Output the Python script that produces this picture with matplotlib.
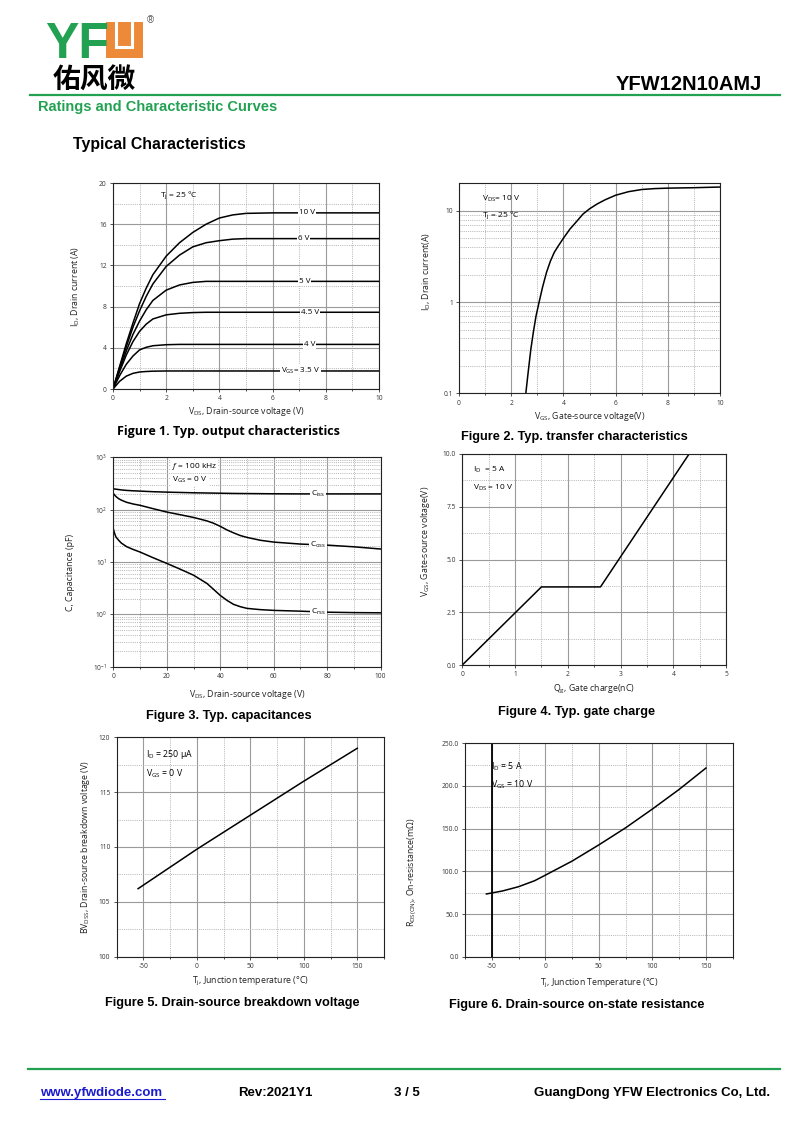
import matplotlib
matplotlib.use('Agg')
import matplotlib.pyplot as plt
from matplotlib.ticker import MultipleLocator, FixedLocator, NullFormatter, FixedFormatter, LogLocator
from matplotlib.patches import Rectangle
from matplotlib.lines import Line2D

plt.rcParams['font.family'] = ['Open Sans', 'DejaVu Sans']
plt.rcParams['mathtext.fontset'] = 'custom'
plt.rcParams['mathtext.rm'] = 'Open Sans'
plt.rcParams['mathtext.it'] = 'Open Sans:italic'
plt.rcParams['mathtext.bf'] = 'Open Sans:bold'
plt.rcParams['mathtext.default'] = 'rm'
plt.rcParams['axes.unicode_minus'] = False

W, H = 800, 1131

# ---- data ----
# Fig 1 output characteristics
vds_out = [0, 0.25, 0.5, 0.75, 1.0, 1.25, 1.5, 2.0, 2.5, 3.0, 3.5, 4.0, 4.5, 5.0, 6.0, 10.0]
id_10v = [0, 2.2, 4.4, 6.4, 8.3, 9.8, 11.1, 12.9, 14.2, 15.2, 16.0, 16.6, 16.9, 17.05, 17.1, 17.1]
id_6v = [0, 2.1, 4.1, 6.0, 7.6, 9.0, 10.2, 11.9, 13.0, 13.8, 14.2, 14.4, 14.55, 14.6, 14.6, 14.6]
id_5v = [0, 1.9, 3.7, 5.3, 6.6, 7.7, 8.6, 9.6, 10.1, 10.35, 10.45, 10.45, 10.45, 10.45, 10.45, 10.45]
id_45v = [0, 1.7, 3.3, 4.6, 5.6, 6.3, 6.8, 7.2, 7.35, 7.42, 7.45, 7.45, 7.45, 7.45, 7.45, 7.45]
id_4v = [0, 1.3, 2.4, 3.2, 3.8, 4.05, 4.2, 4.3, 4.33, 4.33, 4.33, 4.33, 4.33, 4.33, 4.33, 4.33]
id_35v = [0, 0.75, 1.25, 1.52, 1.65, 1.7, 1.73, 1.75, 1.75, 1.75, 1.75, 1.75, 1.75, 1.75, 1.75, 1.75]
out_curves = [id_10v, id_6v, id_5v, id_45v, id_4v, id_35v]
out_labels = ['10 V', '6 V', '5 V', '4.5 V', '4 V', 'V$_{GS}$= 3.5 V']
out_label_x = [7.3, 7.15, 7.2, 7.4, 7.4, 7.05]

# Fig 2 transfer characteristics
vgs_tr = [2.56, 2.65, 2.75, 2.85, 2.95, 3.07, 3.2, 3.35, 3.5, 3.65, 3.8, 4.0, 4.25, 4.5,
          4.75, 5.0, 5.3, 5.6, 6.0, 6.5, 7.0, 7.5, 8.0, 9.0, 10.0]
id_tr = [0.1, 0.17, 0.3, 0.47, 0.7, 1.0, 1.45, 2.1, 2.8, 3.5, 4.1, 5.0, 6.3, 7.6,
         9.2, 10.5, 11.9, 13.2, 14.8, 16.2, 17.1, 17.5, 17.7, 17.9, 18.2]

# Fig 3 capacitances
vds_cap = [0, 0.5, 1, 2, 3, 5, 7.5, 10, 15, 20, 25, 30, 35, 37.5, 40, 42.5, 45, 47.5, 50,
           55, 60, 70, 80, 90, 100]
ciss = [250, 248, 246, 242, 238, 233, 229, 226, 220, 216, 213, 210, 208, 207, 206, 205,
        204, 203.5, 203, 202, 201, 200, 200, 200, 200]
coss = [205, 190, 178, 162, 152, 138, 128, 121, 104, 90, 80, 71, 61, 55, 48, 41, 36, 32,
        29.5, 26, 24, 22, 21, 19.5, 17.7]
crss = [43, 35, 30, 26, 23, 19.6, 17.3, 15.5, 12, 9.4, 7.3, 5.6, 3.9, 3.0, 2.3, 1.85, 1.55,
        1.4, 1.3, 1.23, 1.19, 1.15, 1.1, 1.08, 1.07]

# Fig 4 gate charge
qg = [0, 1.5, 2.62, 4.3]
vgs_qg = [0, 3.7, 3.7, 10.0]

# Fig 5 breakdown voltage
tj_bv = [-55, 0, 50, 100, 150]
bv_dss = [106.2, 109.8, 112.9, 116.0, 119.0]

# Fig 6 on-resistance
tj_r = [-55, -40, -25, -10, 0, 25, 50, 75, 100, 125, 150]
rds_on = [73.5, 77, 82, 89, 95.5, 112, 131, 151, 173, 196, 221]

fig = plt.figure(figsize=(W / 100, H / 100), dpi=100)

GREEN = '#23a152'
ORANGE = '#ec8a3a'


def px(x, y):
    return x / W, 1 - y / H


def add_ax(l, t, r, b):
    return fig.add_axes([l / W, 1 - b / H, (r - l) / W, (b - t) / H])


def style(ax):
    ax.set_axisbelow(True)
    ax.grid(which='major', color='#9a9a9a', lw=0.8, ls='-')
    ax.grid(which='minor', color='#b4b4b4', lw=0.7, ls=(0, (1, 1.2)))
    ax.tick_params(which='both', direction='out', labelsize=4.8, width=0.6,
                   color='#333333', labelcolor='#333333', pad=2)
    ax.tick_params(which='major', length=2.5)
    ax.tick_params(which='minor', length=1.5)
    ax.tick_params(axis='y', which='minor', length=0)
    for s in ax.spines.values():
        s.set_linewidth(0.8)
        s.set_color('#222222')


def labels(ax, xl, yl, xl_top, yl_x, yl_y=0.5, l=0, t=0, r=0, b=0):
    ax.set_xlabel(xl, fontsize=6.3, color='#222222')
    ax.set_ylabel(yl, fontsize=6.3, color='#222222')
    ax.xaxis.set_label_coords(0.5, (b - xl_top) / (b - t))
    ax.yaxis.set_label_coords((yl_x - l) / (r - l), yl_y)


bbox_w = dict(facecolor='white', edgecolor='none', pad=0.6)

# ---- Figure 1 ----
l, t, r, b = 113, 183, 379, 389
ax1 = add_ax(l, t, r, b)
for ys, lab, lx in zip(out_curves, out_labels, out_label_x):
    ax1.plot(vds_out, ys, color='black', lw=1.1)
    ax1.text(lx, ys[-1], lab, fontsize=5.8, ha='center', va='center', bbox=bbox_w)
ax1.text(1.75, 18.8, 'T$_j$ = 25 °C', fontsize=6, va='center')
ax1.set_xlim(0, 10)
ax1.set_ylim(0, 20)
ax1.xaxis.set_major_locator(MultipleLocator(2))
ax1.xaxis.set_minor_locator(MultipleLocator(1))
ax1.yaxis.set_major_locator(MultipleLocator(4))
ax1.yaxis.set_minor_locator(MultipleLocator(2))
style(ax1)
labels(ax1, 'V$_{DS}$, Drain-source voltage (V)', 'I$_D$, Drain current (A)', 405, 82, l=l, t=t, r=r, b=b)

# ---- Figure 2 ----
l, t, r, b = 459, 183.3, 720, 393.3
ax2 = add_ax(l, t, r, b)
ax2.plot(vgs_tr, id_tr, color='black', lw=1.1)
ax2.set_yscale('log')
ax2.set_xlim(0, 10)
ax2.set_ylim(0.1, 20)
ax2.xaxis.set_major_locator(MultipleLocator(2))
ax2.xaxis.set_minor_locator(MultipleLocator(1))
ax2.yaxis.set_major_locator(FixedLocator([0.1, 1, 10]))
ax2.yaxis.set_major_formatter(FixedFormatter(['0.1', '1', '10']))
ax2.yaxis.set_minor_locator(LogLocator(base=10, subs=[2, 3, 4, 5, 6, 7, 8, 9]))
ax2.yaxis.set_minor_formatter(NullFormatter())
style(ax2)
ax2.text(0.87, 13.4, 'V$_{DS}$= 10 V', fontsize=6, va='center')
ax2.text(0.87, 8.9, 'T$_j$ = 25 °C', fontsize=6, va='center')
labels(ax2, 'V$_{GS}$, Gate-source voltage(V)', 'I$_D$, Drain current(A)', 410, 433, 0.58, l=l, t=t, r=r, b=b)

# ---- Figure 3 ----
l, t, r, b = 113.3, 457.3, 380.7, 666.7
ax3 = add_ax(l, t, r, b)
for ys, lab in zip([ciss, coss, crss], ['C$_{iss}$', 'C$_{oss}$', 'C$_{rss}$']):
    ax3.plot(vds_cap, ys, color='black', lw=1.1)
    ax3.text(76.7, ys[vds_cap.index(80)], lab, fontsize=6, ha='center', va='center', bbox=bbox_w)
ax3.set_yscale('log')
ax3.set_xlim(0, 100)
ax3.set_ylim(0.1, 1000)
ax3.xaxis.set_major_locator(MultipleLocator(20))
ax3.xaxis.set_minor_locator(MultipleLocator(10))
ax3.yaxis.set_minor_locator(LogLocator(base=10, subs=[2, 3, 4, 5, 6, 7, 8, 9]))
ax3.yaxis.set_minor_formatter(NullFormatter())
style(ax3)
ax3.text(22, 660, '$\\it{f}$ = 100 kHz', fontsize=6, va='center', bbox=bbox_w)
ax3.text(22, 375, 'V$_{GS}$ = 0 V', fontsize=6, va='center', bbox=bbox_w)
labels(ax3, 'V$_{DS}$, Drain-source voltage (V)', 'C, Capacitance (pF)', 688, 75, 0.452, l=l, t=t, r=r, b=b)

# ---- Figure 4 ----
l, t, r, b = 462.3, 454, 726, 665
ax4 = add_ax(l, t, r, b)
ax4.plot(qg, vgs_qg, color='black', lw=1.1)
ax4.set_xlim(0, 5)
ax4.set_ylim(0, 10)
ax4.xaxis.set_major_locator(MultipleLocator(1))
ax4.xaxis.set_minor_locator(MultipleLocator(0.5))
ax4.yaxis.set_major_locator(FixedLocator([0, 2.5, 5, 7.5, 10]))
ax4.yaxis.set_major_formatter(FixedFormatter(['0.0', '2.5', '5.0', '7.5', '10.0']))
ax4.yaxis.set_minor_locator(MultipleLocator(1.25))
style(ax4)
ax4.text(0.2, 9.25, 'I$_D$  = 5 A', fontsize=6, va='center')
ax4.text(0.2, 8.4, 'V$_{DS}$ = 10 V', fontsize=6, va='center')
labels(ax4, 'Q$_g$, Gate charge(nC)', 'V$_{GS}$, Gate-source voltage(V)', 683, 432, 0.588, l=l, t=t, r=r, b=b)

# ---- Figure 5 ----
l, t, r, b = 116.7, 737.3, 384, 956.7
ax5 = add_ax(l, t, r, b)
ax5.plot(tj_bv, bv_dss, color='black', lw=1.1)
ax5.set_xlim(-75, 175)
ax5.set_ylim(100, 120)
ax5.xaxis.set_major_locator(FixedLocator([-50, 0, 50, 100, 150]))
ax5.xaxis.set_minor_locator(FixedLocator([-75, -25, 25, 75, 125, 175]))
ax5.yaxis.set_major_locator(MultipleLocator(5))
ax5.yaxis.set_minor_locator(MultipleLocator(2.5))
style(ax5)
ax5.text(-48, 118.4, 'I$_D$ = 250 µA', fontsize=6.3, va='center')
ax5.text(-48, 116.7, 'V$_{GS}$ = 0 V', fontsize=6.3, va='center')
labels(ax5, 'T$_j$, Junction temperature (°C)', 'BV$_{DSS}$, Drain-source breakdown voltage (V)', 975, 92, l=l, t=t, r=r, b=b)

# ---- Figure 6 ----
l, t, r, b = 465, 743.3, 732.7, 956.7
ax6 = add_ax(l, t, r, b)
ax6.axvline(-50, color='black', lw=1.3)
ax6.plot(tj_r, rds_on, color='black', lw=1.1)
ax6.set_xlim(-75, 175)
ax6.set_ylim(0, 250)
ax6.xaxis.set_major_locator(FixedLocator([-50, 0, 50, 100, 150]))
ax6.xaxis.set_minor_locator(FixedLocator([-75, -25, 25, 75, 125, 175]))
ax6.yaxis.set_major_locator(FixedLocator([0, 50, 100, 150, 200, 250]))
ax6.yaxis.set_major_formatter(FixedFormatter(['0.0', '50.0', '100.0', '150.0', '200.0', '250.0']))
ax6.yaxis.set_minor_locator(MultipleLocator(25))
style(ax6)
ax6.text(-51, 222, 'I$_D$ = 5 A', fontsize=6.3, va='center')
ax6.text(-51, 201, 'V$_{GS}$ = 10 V', fontsize=6.3, va='center')
labels(ax6, 'T$_j$, Junction Temperature (°C)', 'R$_{DS(ON)}$, On-resistance(mΩ)', 977, 419, 0.397, l=l, t=t, r=r, b=b)

# ---- captions ----
cap_font = ['Liberation Sans', 'DejaVu Sans']
fig.text(*px(228, 432), 'Figure 1. Typ. output characteristics', fontsize=9, weight='bold',
         ha='center', va='center', family=['Open Sans', 'DejaVu Sans'])
captions = [(574, 437, 'Figure 2. Typ. transfer characteristics'),
            (229, 716, 'Figure 3. Typ. capacitances'),
            (577, 712, 'Figure 4. Typ. gate charge'),
            (232, 1003, 'Figure 5. Drain-source breakdown voltage'),
            (577, 1005, 'Figure 6. Drain-source on-state resistance')]
for cx, cy, s in captions:
    fig.text(*px(cx, cy), s, fontsize=9.2, weight='bold', ha='center', va='center', family=cap_font)

# ---- header ----
fig.text(*px(45, 58), 'YF', fontsize=36, weight='bold', color=GREEN, family=cap_font, va='baseline')
fig.add_artist(Rectangle(px(106, 58), 37 / W, 36 / H, transform=fig.transFigure,
                         facecolor=ORANGE, edgecolor='none'))
fig.add_artist(Line2D([116 / W, 116 / W, 132 / W, 132 / W],
                      [1 - 21 / H, 1 - 47 / H, 1 - 47 / H, 1 - 21 / H],
                      transform=fig.transFigure, color='white', lw=2.2,
                      solid_joinstyle='miter'))
fig.text(*px(150, 20), '®', fontsize=7, color='#555555', family=cap_font, ha='center', va='center')
fig.text(*px(53, 89), '佑风微', fontsize=20, weight='bold', family=['Noto Sans CJK SC', 'DejaVu Sans'],
         va='baseline')
fig.text(*px(762, 90), 'YFW12N10AMJ', fontsize=14.5, weight='bold', family=cap_font,
         ha='right', va='baseline')
fig.add_artist(Line2D([30 / W, 780 / W], [1 - 95 / H] * 2, transform=fig.transFigure,
                      color=GREEN, lw=1.6))
fig.text(*px(38, 111), 'Ratings and Characteristic Curves', fontsize=10.5, weight='bold',
         color=GREEN, family=cap_font, va='baseline')
fig.text(*px(73, 149), 'Typical Characteristics', fontsize=11.4, weight='bold',
         family=cap_font, va='baseline')

# ---- footer ----
fig.add_artist(Line2D([28 / W, 780 / W], [1 - 1069 / H] * 2, transform=fig.transFigure,
                      color=GREEN, lw=1.6))
fig.text(*px(40, 1096), 'www.yfwdiode.com', fontsize=9.5, weight='bold', color='#1b1bd0',
         family=cap_font, va='baseline')
fig.add_artist(Line2D([40 / W, 165 / W], [1 - 1098.5 / H] * 2, transform=fig.transFigure,
                      color='#1b1bd0', lw=0.8))
fig.text(*px(238, 1096), 'Rev:2021Y1', fontsize=9.5, weight='bold', family=cap_font, va='baseline')
fig.text(*px(407, 1096), '3 / 5', fontsize=9.5, weight='bold', family=cap_font, va='baseline', ha='center')
fig.text(*px(770, 1096), 'GuangDong YFW Electronics Co, Ltd.', fontsize=9.5, weight='bold',
         family=cap_font, va='baseline', ha='right')

fig.savefig('out.png', dpi=100)
